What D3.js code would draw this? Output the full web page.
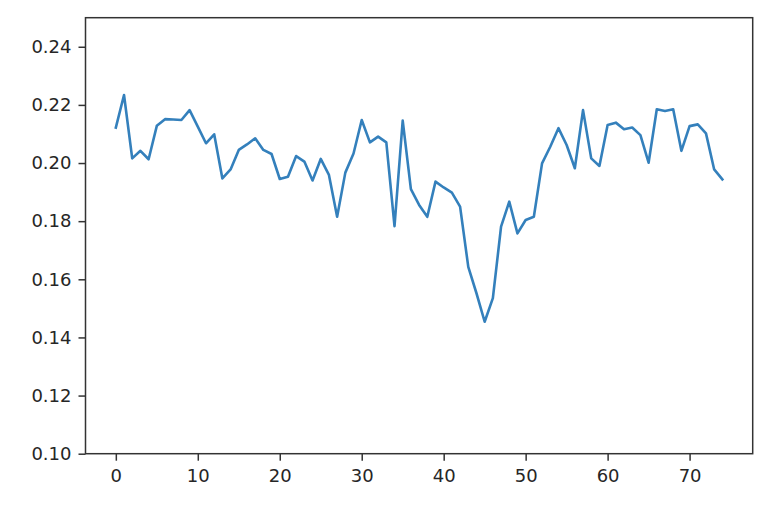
<!DOCTYPE html>
<html>
<head>
<meta charset="utf-8">
<script src="https://cdn.jsdelivr.net/npm/d3@7"></script>
<style>
  body { margin: 0; background: #fff; }
  text { font-family: "DejaVu Sans", sans-serif; }
</style>
</head>
<body>
<svg id="chart" width="778" height="508"></svg>
<script>
// values, one per index 0..74
var values = [
  0.2122, 0.2234, 0.2016, 0.2042, 0.2013, 0.2128, 0.2151, 0.2150, 0.2148, 0.2182,
  0.2125, 0.2068, 0.2099, 0.1947, 0.1978, 0.2045, 0.2064, 0.2085, 0.2045, 0.2031,
  0.1945, 0.1953, 0.2024, 0.2005, 0.1940, 0.2014, 0.1959, 0.1815, 0.1967, 0.2033,
  0.2148, 0.2071, 0.2091, 0.2071, 0.1783, 0.2146, 0.1910, 0.1856, 0.1815, 0.1936,
  0.1916, 0.1898, 0.1850, 0.1643, 0.1552, 0.1454, 0.1535, 0.1781, 0.1867, 0.1758,
  0.1804, 0.1815, 0.1999, 0.2056, 0.2120, 0.2062, 0.1982, 0.2182, 0.2016, 0.1990,
  0.2131, 0.2139, 0.2116, 0.2122, 0.2096, 0.2001, 0.2185, 0.2179, 0.2185, 0.2042,
  0.2127, 0.2133, 0.2102, 0.1978, 0.1944
];
var xTicks = [0, 10, 20, 30, 40, 50, 60, 70];
var yTicks = [0.10, 0.12, 0.14, 0.16, 0.18, 0.20, 0.22, 0.24];
var yDomain = [0.10, 0.25];

var svg = d3.select("#chart");
var plotLeft = 85.5, plotRight = 752.7, plotTop = 17.7, plotBottom = 453.7;

// matplotlib style 5% margin on x
var n = values.length - 1;
var x = d3.scaleLinear()
    .domain([-n * 0.05, n * 1.05])
    .range([plotLeft, plotRight]);
var y = d3.scaleLinear()
    .domain(yDomain)
    .range([plotBottom, plotTop]);

var line = d3.line()
    .x(function(d, i){ return x(i); })
    .y(function(d){ return y(d); });

svg.append("path")
    .datum(values)
    .attr("fill", "none")
    .attr("stroke", "#3480bc")
    .attr("stroke-width", 2.6)
    .attr("stroke-linejoin", "round")
    .attr("stroke-linecap", "square")
    .attr("d", line);

//axes
var xAxis = d3.axisBottom(x).tickValues(xTicks).tickSize(7).tickPadding(6)
    .tickFormat(d3.format("d"));
var yAxis = d3.axisLeft(y).tickValues(yTicks).tickSize(7).tickPadding(7)
    .tickFormat(d3.format(".2f"));

var gx = svg.append("g").attr("transform", "translate(0," + plotBottom + ")").call(xAxis);
var gy = svg.append("g").attr("transform", "translate(" + plotLeft + ",0)").call(yAxis);

[gx, gy].forEach(function(g){
    g.select(".domain").remove();
    g.selectAll(".tick line").attr("stroke", "#333").attr("stroke-width", 1.5);
    g.selectAll(".tick text").attr("fill", "#262626").style("font-size", "18px");
});
gx.selectAll(".tick text").attr("dy", "0.85em");

// frame
svg.append("rect")
    .attr("x", plotLeft).attr("y", plotTop)
    .attr("width", plotRight - plotLeft).attr("height", plotBottom - plotTop)
    .attr("fill", "none")
    .attr("stroke", "#333")
    .attr("stroke-width", 1.5);
</script>
</body>
</html>
